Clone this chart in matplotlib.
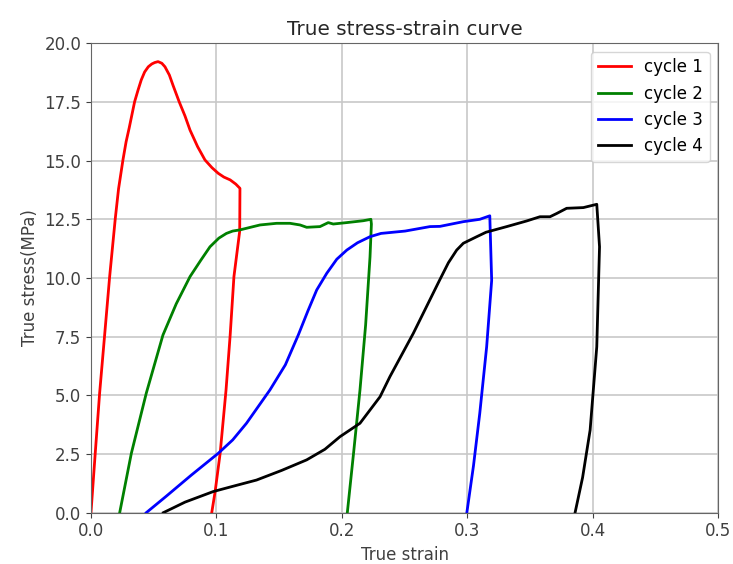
import matplotlib
matplotlib.use("Agg")
import matplotlib.pyplot as plt

plt.rcParams['font.size'] = 12

# cycle 1 (loading, then unloading)
strain1 = [0, 0.0034, 0.0069, 0.0109, 0.0149, 0.0194, 0.022, 0.0255, 0.028, 0.0305,
           0.0348, 0.0375, 0.0401, 0.0428, 0.0457, 0.0485, 0.0508, 0.0535, 0.0565, 0.059,
           0.0625, 0.0655, 0.0704, 0.075, 0.079, 0.085, 0.0909, 0.0965, 0.1015, 0.106,
           0.111, 0.1155, 0.1188,
           0.1186, 0.114, 0.111, 0.1077, 0.103, 0.099, 0.0963]
stress1 = [0, 2.53, 5.09, 7.57, 10.06, 12.54, 13.8, 15.03, 15.8, 16.4,
           17.51, 18.0, 18.44, 18.78, 19.0, 19.12, 19.18, 19.22, 19.15, 19.0,
           18.65, 18.2, 17.5, 16.9, 16.3, 15.6, 15.03, 14.7, 14.46, 14.3,
           14.18, 14.0, 13.82,
           12.0, 10.06, 7.57, 5.23, 2.53, 0.9, 0]

# cycle 2
strain2 = [0.0229, 0.0322, 0.0441, 0.0574, 0.068, 0.079, 0.0875, 0.0949, 0.102, 0.108,
           0.113, 0.1188, 0.1348, 0.148, 0.1587, 0.1667, 0.172, 0.1826, 0.1892, 0.1932,
           0.2039, 0.2171, 0.2232,
           0.2236, 0.2225, 0.219, 0.2145, 0.2095, 0.2044]
stress2 = [0, 2.53, 5.09, 7.57, 8.9, 10.06, 10.75, 11.33, 11.7, 11.9,
           12.0, 12.05, 12.26, 12.33, 12.33, 12.26, 12.16, 12.19, 12.36, 12.3,
           12.36, 12.44, 12.5,
           12.3, 10.9, 8.0, 5.23, 2.6, 0]

# cycle 3
strain3 = [0.0441, 0.06, 0.08, 0.1015, 0.113, 0.124, 0.1427, 0.155, 0.1653, 0.173,
           0.180, 0.188, 0.196, 0.204, 0.2125, 0.2225, 0.2313, 0.2505, 0.2703, 0.2783,
           0.2969, 0.310, 0.318,
           0.3195, 0.3155, 0.310, 0.305, 0.2997]
stress3 = [0, 0.7, 1.6, 2.53, 3.1, 3.81, 5.23, 6.3, 7.57, 8.6,
           9.49, 10.2, 10.8, 11.19, 11.5, 11.76, 11.9, 12.0, 12.19, 12.2,
           12.4, 12.5, 12.65,
           9.9, 7.07, 4.23, 2.0, 0]

# cycle 4
strain4 = [0.0577, 0.075, 0.0975, 0.115, 0.132, 0.152, 0.172, 0.1865, 0.1986, 0.2145,
           0.2305, 0.2384, 0.257, 0.278, 0.285, 0.2916, 0.2969, 0.3076, 0.3150, 0.3315,
           0.3474, 0.358, 0.366, 0.3714, 0.3793, 0.3926, 0.4033,
           0.4055, 0.4033, 0.398, 0.392, 0.386]
stress4 = [0, 0.45, 0.9, 1.15, 1.39, 1.8, 2.25, 2.7, 3.24, 3.81,
           4.94, 5.8, 7.64, 9.91, 10.65, 11.19, 11.48, 11.76, 11.95, 12.19,
           12.43, 12.61, 12.61, 12.75, 12.97, 13.0, 13.14,
           11.33, 7.07, 3.52, 1.5, 0]

fig = plt.figure(figsize=(7.33, 5.64), dpi=100)
ax = fig.add_axes([0.1241, 0.091, 0.8555, 0.8322])

ax.plot(strain1, stress1, color='red', lw=2, label='cycle 1')
ax.plot(strain2, stress2, color='green', lw=2, label='cycle 2')
ax.plot(strain3, stress3, color='blue', lw=2, label='cycle 3')
ax.plot(strain4, stress4, color='black', lw=2, label='cycle 4')

ax.set_xlim(0, 0.5)
ax.set_ylim(0, 20)
ax.grid(True, color='#c8c8c8', lw=1.2)
for s in ax.spines.values():
    s.set_color('0.4')
ax.tick_params(colors='0.25')
ax.set_title('True stress-strain curve', color='0.15')
ax.set_xlabel('True strain', color='0.25')
ax.set_ylabel('True stress(MPa)', color='0.25')
ax.legend(loc='upper right')

fig.savefig('out.png', dpi=100)
